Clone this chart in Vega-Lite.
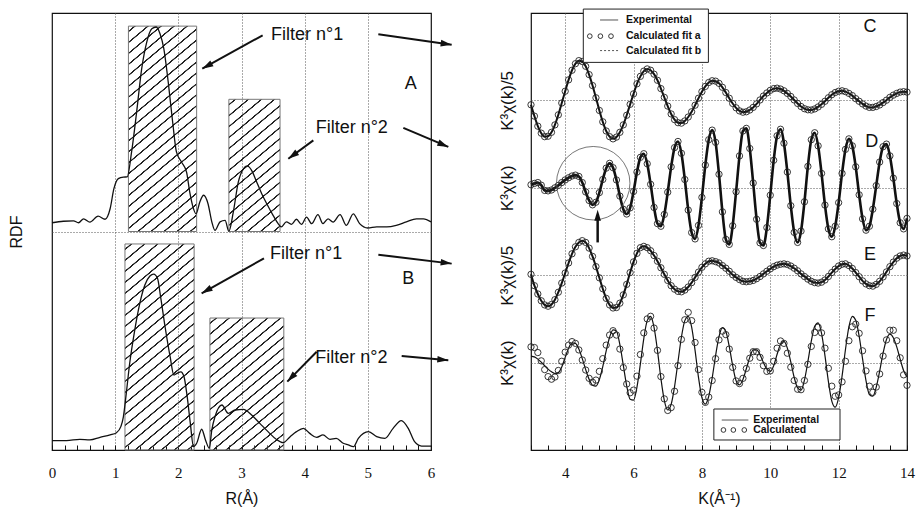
{
"$schema": "https://vega.github.io/schema/vega-lite/v6.json",
"background": "white",
"padding": {"left": 7, "top": 7, "right": 2, "bottom": 2},
"bounds": "flush",
"spacing": 100,
"config": {
  "view": {"stroke": "#111", "strokeWidth": 1.2},
  "axis": {"domain": false, "gridColor": "#555", "gridDash": [1, 2], "gridWidth": 1, "labelFont": "Liberation Serif", "labelFontSize": 15, "labelColor": "#111", "tickColor": "#111", "titleFont": "Liberation Sans", "titleFontSize": 16, "titleFontWeight": "normal", "titleColor": "#111"},
  "text": {"font": "Liberation Sans", "color": "#111"}
},
"datasets": {
  "rdf": [
    {"R":0.0,"v":1.04,"s":"A"},{"R":0.18,"v":1.047,"s":"A"},{"R":0.34,"v":1.049,"s":"A"},{"R":0.42,"v":1.04,"s":"A"},{"R":0.5,"v":1.058,"s":"A"},{"R":0.6,"v":1.043,"s":"A"},{"R":0.73,"v":1.07,"s":"A"},{"R":0.84,"v":1.056,"s":"A"},{"R":0.92,"v":1.104,"s":"A"},{"R":0.98,"v":1.196,"s":"A"},{"R":1.05,"v":1.242,"s":"A"},{"R":1.13,"v":1.249,"s":"A"},{"R":1.19,"v":1.25,"s":"A"},{"R":1.26,"v":1.364,"s":"A"},{"R":1.34,"v":1.547,"s":"A"},{"R":1.42,"v":1.745,"s":"A"},{"R":1.5,"v":1.867,"s":"A"},{"R":1.58,"v":1.928,"s":"A"},{"R":1.65,"v":1.936,"s":"A"},{"R":1.71,"v":1.905,"s":"A"},{"R":1.77,"v":1.837,"s":"A"},{"R":1.84,"v":1.684,"s":"A"},{"R":1.91,"v":1.501,"s":"A"},{"R":1.97,"v":1.364,"s":"A"},{"R":2.05,"v":1.318,"s":"A"},{"R":2.13,"v":1.272,"s":"A"},{"R":2.18,"v":1.181,"s":"A"},{"R":2.24,"v":1.104,"s":"A"},{"R":2.28,"v":1.081,"s":"A"},{"R":2.34,"v":1.135,"s":"A"},{"R":2.4,"v":1.166,"s":"A"},{"R":2.47,"v":1.127,"s":"A"},{"R":2.53,"v":1.044,"s":"A"},{"R":2.58,"v":1.005,"s":"A"},{"R":2.66,"v":1.044,"s":"A"},{"R":2.74,"v":1.051,"s":"A"},{"R":2.8,"v":1.001,"s":"A"},{"R":2.87,"v":1.089,"s":"A"},{"R":2.95,"v":1.227,"s":"A"},{"R":3.03,"v":1.287,"s":"A"},{"R":3.09,"v":1.3,"s":"A"},{"R":3.16,"v":1.28,"s":"A"},{"R":3.24,"v":1.227,"s":"A"},{"R":3.32,"v":1.173,"s":"A"},{"R":3.4,"v":1.127,"s":"A"},{"R":3.5,"v":1.074,"s":"A"},{"R":3.58,"v":1.036,"s":"A"},{"R":3.63,"v":1.021,"s":"A"},{"R":3.71,"v":1.044,"s":"A"},{"R":3.79,"v":1.033,"s":"A"},{"R":3.87,"v":1.056,"s":"A"},{"R":3.95,"v":1.033,"s":"A"},{"R":4.03,"v":1.066,"s":"A"},{"R":4.11,"v":1.036,"s":"A"},{"R":4.21,"v":1.077,"s":"A"},{"R":4.29,"v":1.036,"s":"A"},{"R":4.37,"v":1.058,"s":"A"},{"R":4.45,"v":1.043,"s":"A"},{"R":4.56,"v":1.077,"s":"A"},{"R":4.66,"v":1.028,"s":"A"},{"R":4.77,"v":1.081,"s":"A"},{"R":4.87,"v":1.036,"s":"A"},{"R":5.0,"v":1.016,"s":"A"},{"R":5.14,"v":1.021,"s":"A"},{"R":5.3,"v":1.021,"s":"A"},{"R":5.45,"v":1.028,"s":"A"},{"R":5.61,"v":1.044,"s":"A"},{"R":5.77,"v":1.058,"s":"A"},{"R":5.88,"v":1.058,"s":"A"},{"R":6.0,"v":1.044,"s":"A"},
    {"R":0.0,"v":0.043,"s":"B"},{"R":0.23,"v":0.043,"s":"B"},{"R":0.44,"v":0.049,"s":"B"},{"R":0.6,"v":0.046,"s":"B"},{"R":0.76,"v":0.058,"s":"B"},{"R":0.92,"v":0.069,"s":"B"},{"R":1.02,"v":0.079,"s":"B"},{"R":1.09,"v":0.107,"s":"B"},{"R":1.13,"v":0.152,"s":"B"},{"R":1.17,"v":0.244,"s":"B"},{"R":1.23,"v":0.397,"s":"B"},{"R":1.31,"v":0.549,"s":"B"},{"R":1.39,"v":0.671,"s":"B"},{"R":1.47,"v":0.755,"s":"B"},{"R":1.55,"v":0.796,"s":"B"},{"R":1.61,"v":0.805,"s":"B"},{"R":1.67,"v":0.786,"s":"B"},{"R":1.72,"v":0.7,"s":"B"},{"R":1.79,"v":0.564,"s":"B"},{"R":1.87,"v":0.427,"s":"B"},{"R":1.93,"v":0.343,"s":"B"},{"R":1.98,"v":0.351,"s":"B"},{"R":2.04,"v":0.358,"s":"B"},{"R":2.09,"v":0.335,"s":"B"},{"R":2.14,"v":0.244,"s":"B"},{"R":2.19,"v":0.122,"s":"B"},{"R":2.24,"v":0.015,"s":"B"},{"R":2.29,"v":0.031,"s":"B"},{"R":2.37,"v":0.095,"s":"B"},{"R":2.43,"v":0.046,"s":"B"},{"R":2.49,"v":0.008,"s":"B"},{"R":2.53,"v":0.092,"s":"B"},{"R":2.58,"v":0.152,"s":"B"},{"R":2.69,"v":0.206,"s":"B"},{"R":2.79,"v":0.168,"s":"B"},{"R":2.9,"v":0.183,"s":"B"},{"R":3.03,"v":0.186,"s":"B"},{"R":3.16,"v":0.16,"s":"B"},{"R":3.29,"v":0.122,"s":"B"},{"R":3.42,"v":0.084,"s":"B"},{"R":3.55,"v":0.049,"s":"B"},{"R":3.66,"v":0.034,"s":"B"},{"R":3.77,"v":0.061,"s":"B"},{"R":3.87,"v":0.084,"s":"B"},{"R":3.98,"v":0.099,"s":"B"},{"R":4.08,"v":0.076,"s":"B"},{"R":4.19,"v":0.058,"s":"B"},{"R":4.29,"v":0.069,"s":"B"},{"R":4.4,"v":0.049,"s":"B"},{"R":4.5,"v":0.053,"s":"B"},{"R":4.61,"v":0.031,"s":"B"},{"R":4.69,"v":0.023,"s":"B"},{"R":4.77,"v":0.015,"s":"B"},{"R":4.85,"v":0.053,"s":"B"},{"R":5.01,"v":0.084,"s":"B"},{"R":5.14,"v":0.061,"s":"B"},{"R":5.27,"v":0.053,"s":"B"},{"R":5.4,"v":0.099,"s":"B"},{"R":5.53,"v":0.134,"s":"B"},{"R":5.64,"v":0.099,"s":"B"},{"R":5.74,"v":0.038,"s":"B"},{"R":5.85,"v":0.018,"s":"B"},{"R":6.0,"v":0.018,"s":"B"}
  ],
  "arrows": [
    {"R":3.335,"v":1.898,"R2":2.379,"v2":1.745},
    {"R":5.166,"v":1.903,"R2":6.327,"v2":1.855},
    {"R":4.137,"v":1.417,"R2":3.741,"v2":1.333},
    {"R":5.562,"v":1.474,"R2":6.274,"v2":1.387},
    {"R":3.356,"v":0.877,"R2":2.369,"v2":0.717},
    {"R":5.166,"v":0.894,"R2":6.327,"v2":0.853},
    {"R":4.19,"v":0.45,"R2":3.725,"v2":0.313},
    {"R":5.536,"v":0.43,"R2":6.274,"v2":0.411}
  ],
  "exafs": [
    {"k":3.0,"C":79.0,"D":60.7,"E":40.2,"F":21.5,"Fc":23.6},
    {"k":3.1,"C":76.4,"D":61.0,"E":37.6,"F":21.3,"Fc":23.45},
    {"k":3.2,"C":74.1,"D":61.2,"E":35.7,"F":20.8,"Fc":22.3},
    {"k":3.3,"C":72.5,"D":60.6,"E":34.15,"F":20.1,"Fc":20.4},
    {"k":3.4,"C":71.7,"D":59.4,"E":33.2,"F":19.3,"Fc":18.4},
    {"k":3.5,"C":71.8,"D":59.3,"E":32.9,"F":18.5,"Fc":16.8},
    {"k":3.6,"C":72.7,"D":59.5,"E":33.3,"F":17.9,"Fc":16.2},
    {"k":3.7,"C":74.4,"D":60.0,"E":34.4,"F":17.5,"Fc":16.7},
    {"k":3.8,"C":76.7,"D":60.55,"E":36.1,"F":17.7,"Fc":18.2},
    {"k":3.9,"C":79.4,"D":61.2,"E":38.2,"F":19.0,"Fc":20.3},
    {"k":4.0,"C":82.1,"D":61.8,"E":40.5,"F":21.2,"Fc":22.4},
    {"k":4.1,"C":84.7,"D":62.3,"E":42.8,"F":23.3,"Fc":24.0},
    {"k":4.2,"C":86.9,"D":62.7,"E":44.9,"F":24.5,"Fc":24.8},
    {"k":4.3,"C":88.4,"D":62.9,"E":46.5,"F":24.4,"Fc":24.4},
    {"k":4.4,"C":89.1,"D":62.6,"E":47.5,"F":23.1,"Fc":22.9},
    {"k":4.5,"C":88.9,"D":61.2,"E":47.9,"F":20.9,"Fc":20.6},
    {"k":4.6,"C":87.8,"D":59.05,"E":47.5,"F":18.4,"Fc":18.3},
    {"k":4.7,"C":85.9,"D":57.1,"E":46.2,"F":16.2,"Fc":16.4},
    {"k":4.8,"C":83.4,"D":56.1,"E":44.3,"F":14.8,"Fc":15.5},
    {"k":4.9,"C":80.6,"D":56.7,"E":41.96,"F":14.6,"Fc":16.0},
    {"k":5.0,"C":77.7,"D":58.9,"E":39.4,"F":16.1,"Fc":18.0},
    {"k":5.1,"C":75.1,"D":61.9,"E":36.9,"F":19.1,"Fc":20.9},
    {"k":5.2,"C":73.0,"D":64.5,"E":34.7,"F":22.7,"Fc":24.0},
    {"k":5.3,"C":71.7,"D":65.6,"E":33.2,"F":25.8,"Fc":26.3},
    {"k":5.4,"C":71.2,"D":64.6,"E":32.5,"F":27.5,"Fc":27.3},
    {"k":5.5,"C":71.6,"D":61.8,"E":32.6,"F":27.2,"Fc":26.3},
    {"k":5.6,"C":72.7,"D":58.1,"E":33.6,"F":24.1,"Fc":23.1},
    {"k":5.7,"C":74.4,"D":55.1,"E":35.5,"F":19.4,"Fc":18.85},
    {"k":5.8,"C":76.6,"D":54.0,"E":37.9,"F":14.7,"Fc":15.1},
    {"k":5.9,"C":79.1,"D":55.4,"E":40.6,"F":11.6,"Fc":13.1},
    {"k":6.0,"C":81.5,"D":59.15,"E":43.05,"F":11.4,"Fc":13.7},
    {"k":6.1,"C":83.8,"D":63.6,"E":45.0,"F":14.4,"Fc":16.9},
    {"k":6.2,"C":85.5,"D":66.97,"E":46.3,"F":19.7,"Fc":21.85},
    {"k":6.3,"C":86.7,"D":67.8,"E":46.6,"F":25.5,"Fc":26.8},
    {"k":6.4,"C":87.2,"D":65.5,"E":46.3,"F":29.6,"Fc":30.0},
    {"k":6.5,"C":86.9,"D":60.8,"E":45.6,"F":30.6,"Fc":30.6},
    {"k":6.6,"C":86.0,"D":55.5,"E":44.5,"F":28.05,"Fc":27.9},
    {"k":6.7,"C":84.6,"D":51.8,"E":43.2,"F":22.75,"Fc":22.8},
    {"k":6.8,"C":82.7,"D":51.2,"E":41.7,"F":16.4,"Fc":16.8},
    {"k":6.9,"C":80.7,"D":53.9,"E":40.2,"F":11.35,"Fc":11.7},
    {"k":7.0,"C":78.7,"D":59.0,"E":38.8,"F":9.15,"Fc":9.05},
    {"k":7.1,"C":76.9,"D":64.8,"E":37.6,"F":10.45,"Fc":9.7},
    {"k":7.2,"C":75.6,"D":69.2,"E":36.8,"F":14.5,"Fc":13.45},
    {"k":7.3,"C":74.9,"D":70.6,"E":36.3,"F":20.2,"Fc":19.3},
    {"k":7.4,"C":74.8,"D":67.9,"E":36.2,"F":25.8,"Fc":25.3},
    {"k":7.5,"C":75.3,"D":61.9,"E":36.6,"F":29.6,"Fc":29.8},
    {"k":7.6,"C":76.2,"D":54.9,"E":37.3,"F":30.6,"Fc":31.5},
    {"k":7.7,"C":77.4,"D":49.75,"E":38.3,"F":28.1,"Fc":29.6},
    {"k":7.8,"C":78.9,"D":48.3,"E":39.5,"F":22.8,"Fc":24.6},
    {"k":7.9,"C":80.5,"D":51.4,"E":40.7,"F":16.6,"Fc":18.4},
    {"k":8.0,"C":82.0,"D":57.8,"E":41.8,"F":12.0,"Fc":13.2},
    {"k":8.1,"C":83.2,"D":65.2,"E":42.6,"F":10.5,"Fc":10.9},
    {"k":8.2,"C":84.1,"D":71.0,"E":43.2,"F":12.3,"Fc":12.1},
    {"k":8.3,"C":84.5,"D":73.2,"E":43.3,"F":16.45,"Fc":15.9},
    {"k":8.4,"C":84.4,"D":70.4,"E":43.1,"F":21.6,"Fc":20.9},
    {"k":8.5,"C":83.9,"D":63.1,"E":42.8,"F":25.95,"Fc":25.2},
    {"k":8.6,"C":83.0,"D":54.5,"E":42.2,"F":28.0,"Fc":27.2},
    {"k":8.7,"C":81.8,"D":48.2,"E":41.6,"F":27.1,"Fc":26.4},
    {"k":8.8,"C":80.5,"D":47.05,"E":40.9,"F":23.7,"Fc":23.1},
    {"k":8.9,"C":79.3,"D":51.3,"E":40.1,"F":19.3,"Fc":18.9},
    {"k":9.0,"C":78.3,"D":59.1,"E":39.5,"F":15.85,"Fc":15.8},
    {"k":9.1,"C":77.6,"D":67.3,"E":39.0,"F":14.9,"Fc":15.2},
    {"k":9.2,"C":77.3,"D":73.0,"E":38.6,"F":16.15,"Fc":16.4},
    {"k":9.3,"C":77.4,"D":73.6,"E":38.5,"F":18.6,"Fc":18.65},
    {"k":9.4,"C":77.8,"D":69.0,"E":38.6,"F":21.2,"Fc":21.0},
    {"k":9.5,"C":78.4,"D":61.1,"E":38.8,"F":22.9,"Fc":22.5},
    {"k":9.6,"C":79.2,"D":52.8,"E":39.2,"F":22.9,"Fc":22.5},
    {"k":9.7,"C":80.1,"D":47.4,"E":39.7,"F":21.8,"Fc":21.2},
    {"k":9.8,"C":81.0,"D":46.8,"E":40.3,"F":20.0,"Fc":19.3},
    {"k":9.9,"C":81.7,"D":50.9,"E":40.9,"F":18.5,"Fc":18.0},
    {"k":10.0,"C":82.3,"D":58.3,"E":41.45,"F":18.0,"Fc":18.1},
    {"k":10.1,"C":82.7,"D":66.3,"E":41.95,"F":19.3,"Fc":20.3},
    {"k":10.2,"C":82.8,"D":71.9,"E":42.3,"F":21.9,"Fc":23.3},
    {"k":10.3,"C":82.6,"D":73.4,"E":42.5,"F":24.2,"Fc":24.95},
    {"k":10.4,"C":82.2,"D":70.2,"E":42.6,"F":24.85,"Fc":24.4},
    {"k":10.5,"C":81.6,"D":63.6,"E":42.45,"F":23.3,"Fc":22.15},
    {"k":10.6,"C":80.9,"D":55.9,"E":42.1,"F":20.15,"Fc":18.95},
    {"k":10.7,"C":80.1,"D":49.8,"E":41.6,"F":16.6,"Fc":15.9},
    {"k":10.8,"C":79.3,"D":47.5,"E":41.0,"F":14.2,"Fc":13.9},
    {"k":10.9,"C":78.6,"D":50.1,"E":40.3,"F":13.7,"Fc":13.8},
    {"k":11.0,"C":78.1,"D":56.8,"E":39.7,"F":16.0,"Fc":15.9},
    {"k":11.1,"C":77.85,"D":64.9,"E":39.1,"F":20.2,"Fc":19.6},
    {"k":11.2,"C":77.8,"D":71.0,"E":38.6,"F":24.9,"Fc":23.7},
    {"k":11.3,"C":78.05,"D":72.6,"E":38.3,"F":28.3,"Fc":26.9},
    {"k":11.4,"C":78.5,"D":69.6,"E":38.2,"F":29.1,"Fc":28.1},
    {"k":11.5,"C":79.1,"D":63.3,"E":38.4,"F":26.7,"Fc":26.8},
    {"k":11.6,"C":79.8,"D":56.05,"E":38.9,"F":21.6,"Fc":23.3},
    {"k":11.7,"C":80.6,"D":50.6,"E":39.7,"F":15.7,"Fc":18.7},
    {"k":11.8,"C":81.3,"D":48.8,"E":40.6,"F":11.2,"Fc":14.6},
    {"k":11.9,"C":81.8,"D":51.2,"E":41.4,"F":9.8,"Fc":12.3},
    {"k":12.0,"C":82.1,"D":56.6,"E":42.1,"F":12.0,"Fc":12.6},
    {"k":12.1,"C":82.2,"D":63.3,"E":42.5,"F":16.9,"Fc":15.6},
    {"k":12.2,"C":82.0,"D":68.8,"E":42.6,"F":23.0,"Fc":20.3},
    {"k":12.3,"C":81.6,"D":71.2,"E":42.2,"F":28.15,"Fc":25.0},
    {"k":12.4,"C":81.1,"D":69.6,"E":41.55,"F":30.6,"Fc":28.2},
    {"k":12.5,"C":80.4,"D":64.8,"E":40.6,"F":29.7,"Fc":28.8},
    {"k":12.6,"C":79.8,"D":58.4,"E":39.65,"F":26.05,"Fc":26.7},
    {"k":12.7,"C":79.2,"D":52.9,"E":38.7,"F":20.85,"Fc":22.7},
    {"k":12.8,"C":78.7,"D":50.3,"E":38.0,"F":15.9,"Fc":18.1},
    {"k":12.9,"C":78.4,"D":51.2,"E":37.6,"F":12.7,"Fc":14.6},
    {"k":13.0,"C":78.4,"D":55.1,"E":37.5,"F":12.3,"Fc":13.2},
    {"k":13.1,"C":78.6,"D":60.5,"E":37.9,"F":14.4,"Fc":14.4},
    {"k":13.2,"C":78.96,"D":65.9,"E":38.6,"F":18.05,"Fc":17.4},
    {"k":13.3,"C":79.5,"D":69.4,"E":39.6,"F":22.15,"Fc":21.5},
    {"k":13.4,"C":80.05,"D":70.0,"E":40.75,"F":25.3,"Fc":25.2},
    {"k":13.5,"C":80.7,"D":67.3,"E":41.95,"F":26.5,"Fc":27.4},
    {"k":13.6,"C":81.2,"D":62.2,"E":43.0,"F":25.7,"Fc":27.4},
    {"k":13.7,"C":81.6,"D":56.4,"E":43.9,"F":23.6,"Fc":25.0},
    {"k":13.8,"C":81.9,"D":52.0,"E":44.4,"F":20.8,"Fc":21.1},
    {"k":13.9,"C":82.0,"D":50.6,"E":44.6,"F":18.2,"Fc":17.2},
    {"k":14.0,"C":81.9,"D":53.0,"E":44.4,"F":16.7,"Fc":14.8}
  ]
},
"hconcat": [
  {
    "width": 379,
    "height": 437,
    "encoding": {
      "x": {"field": "R", "type": "quantitative", "scale": {"domain": [0, 6], "nice": false, "zero": false},
        "axis": {"title": "R(Å)", "format": "~g", "values": [0,0.2,0.4,0.6,0.8,1,1.2,1.4,1.6,1.8,2,2.2,2.4,2.6,2.8,3,3.2,3.4,3.6,3.8,4,4.2,4.4,4.6,4.8,5,5.2,5.4,5.6,5.8,6],
          "labelExpr": "datum.value % 1 == 0 ? datum.label : ''", "labelFlush": false, "labelOverlap": false, "tickSize": -5, "labelPadding": 20, "titlePadding": 10,
          "grid": true, "gridOpacity": {"condition": {"test": "datum.value % 1 == 0 && datum.value > 0 && datum.value < 6", "value": 1}, "value": 0}}},
      "y": {"field": "v", "type": "quantitative", "scale": {"domain": [0, 2], "nice": false, "zero": false},
        "axis": {"title": "RDF", "values": [1], "labels": false, "ticks": false, "grid": true, "titlePadding": 28}}
    },
    "layer": [
      {
        "data": {"values": [{"R": 1.21, "R2": 2.29, "v": 1.0, "v2": 1.94}]},
        "mark": {"type": "rect", "stroke": "#777", "strokeWidth": 1,
          "fill": {"gradient": "linear", "x1": 0, "y1": 0, "x2": 0.3306, "y2": 1.1866, "stops": [
            {"offset":0.0158,"color":"rgba(255,255,255,0)"},{"offset":0.0183,"color":"#222"},{"offset":0.0233,"color":"#222"},{"offset":0.0258,"color":"rgba(255,255,255,0)"},
            {"offset":0.0575,"color":"rgba(255,255,255,0)"},{"offset":0.06,"color":"#222"},{"offset":0.065,"color":"#222"},{"offset":0.0675,"color":"rgba(255,255,255,0)"},
            {"offset":0.0992,"color":"rgba(255,255,255,0)"},{"offset":0.1017,"color":"#222"},{"offset":0.1067,"color":"#222"},{"offset":0.1092,"color":"rgba(255,255,255,0)"},
            {"offset":0.1408,"color":"rgba(255,255,255,0)"},{"offset":0.1433,"color":"#222"},{"offset":0.1483,"color":"#222"},{"offset":0.1508,"color":"rgba(255,255,255,0)"},
            {"offset":0.1825,"color":"rgba(255,255,255,0)"},{"offset":0.185,"color":"#222"},{"offset":0.19,"color":"#222"},{"offset":0.1925,"color":"rgba(255,255,255,0)"},
            {"offset":0.2242,"color":"rgba(255,255,255,0)"},{"offset":0.2267,"color":"#222"},{"offset":0.2317,"color":"#222"},{"offset":0.2342,"color":"rgba(255,255,255,0)"},
            {"offset":0.2658,"color":"rgba(255,255,255,0)"},{"offset":0.2683,"color":"#222"},{"offset":0.2733,"color":"#222"},{"offset":0.2758,"color":"rgba(255,255,255,0)"},
            {"offset":0.3075,"color":"rgba(255,255,255,0)"},{"offset":0.31,"color":"#222"},{"offset":0.315,"color":"#222"},{"offset":0.3175,"color":"rgba(255,255,255,0)"},
            {"offset":0.3492,"color":"rgba(255,255,255,0)"},{"offset":0.3517,"color":"#222"},{"offset":0.3567,"color":"#222"},{"offset":0.3592,"color":"rgba(255,255,255,0)"},
            {"offset":0.3908,"color":"rgba(255,255,255,0)"},{"offset":0.3933,"color":"#222"},{"offset":0.3983,"color":"#222"},{"offset":0.4008,"color":"rgba(255,255,255,0)"},
            {"offset":0.4325,"color":"rgba(255,255,255,0)"},{"offset":0.435,"color":"#222"},{"offset":0.44,"color":"#222"},{"offset":0.4425,"color":"rgba(255,255,255,0)"},
            {"offset":0.4742,"color":"rgba(255,255,255,0)"},{"offset":0.4767,"color":"#222"},{"offset":0.4817,"color":"#222"},{"offset":0.4842,"color":"rgba(255,255,255,0)"},
            {"offset":0.5158,"color":"rgba(255,255,255,0)"},{"offset":0.5183,"color":"#222"},{"offset":0.5233,"color":"#222"},{"offset":0.5258,"color":"rgba(255,255,255,0)"},
            {"offset":0.5575,"color":"rgba(255,255,255,0)"},{"offset":0.56,"color":"#222"},{"offset":0.565,"color":"#222"},{"offset":0.5675,"color":"rgba(255,255,255,0)"},
            {"offset":0.5992,"color":"rgba(255,255,255,0)"},{"offset":0.6017,"color":"#222"},{"offset":0.6067,"color":"#222"},{"offset":0.6092,"color":"rgba(255,255,255,0)"},
            {"offset":0.6408,"color":"rgba(255,255,255,0)"},{"offset":0.6433,"color":"#222"},{"offset":0.6483,"color":"#222"},{"offset":0.6508,"color":"rgba(255,255,255,0)"},
            {"offset":0.6825,"color":"rgba(255,255,255,0)"},{"offset":0.685,"color":"#222"},{"offset":0.69,"color":"#222"},{"offset":0.6925,"color":"rgba(255,255,255,0)"},
            {"offset":0.7242,"color":"rgba(255,255,255,0)"},{"offset":0.7267,"color":"#222"},{"offset":0.7317,"color":"#222"},{"offset":0.7342,"color":"rgba(255,255,255,0)"},
            {"offset":0.7658,"color":"rgba(255,255,255,0)"},{"offset":0.7683,"color":"#222"},{"offset":0.7733,"color":"#222"},{"offset":0.7758,"color":"rgba(255,255,255,0)"},
            {"offset":0.8075,"color":"rgba(255,255,255,0)"},{"offset":0.81,"color":"#222"},{"offset":0.815,"color":"#222"},{"offset":0.8175,"color":"rgba(255,255,255,0)"},
            {"offset":0.8492,"color":"rgba(255,255,255,0)"},{"offset":0.8517,"color":"#222"},{"offset":0.8567,"color":"#222"},{"offset":0.8592,"color":"rgba(255,255,255,0)"},
            {"offset":0.8908,"color":"rgba(255,255,255,0)"},{"offset":0.8933,"color":"#222"},{"offset":0.8983,"color":"#222"},{"offset":0.9008,"color":"rgba(255,255,255,0)"},
            {"offset":0.9325,"color":"rgba(255,255,255,0)"},{"offset":0.935,"color":"#222"},{"offset":0.94,"color":"#222"},{"offset":0.9425,"color":"rgba(255,255,255,0)"},
            {"offset":0.9742,"color":"rgba(255,255,255,0)"},{"offset":0.9767,"color":"#222"},{"offset":0.9817,"color":"#222"},{"offset":0.9842,"color":"rgba(255,255,255,0)"}
          ]}},
        "encoding": {"x2": {"field": "R2"}, "y2": {"field": "v2"}}
      },
      {
        "data": {"values": [{"R": 1.155, "R2": 2.25, "v": 0, "v2": 0.943}]},
        "mark": {"type": "rect", "stroke": "#777", "strokeWidth": 1,
          "fill": {"gradient": "linear", "x1": 0, "y1": 0, "x2": 0.3348, "y2": 1.1876, "stops": [
            {"offset":0.0158,"color":"rgba(255,255,255,0)"},{"offset":0.0183,"color":"#222"},{"offset":0.0233,"color":"#222"},{"offset":0.0258,"color":"rgba(255,255,255,0)"},
            {"offset":0.0575,"color":"rgba(255,255,255,0)"},{"offset":0.06,"color":"#222"},{"offset":0.065,"color":"#222"},{"offset":0.0675,"color":"rgba(255,255,255,0)"},
            {"offset":0.0992,"color":"rgba(255,255,255,0)"},{"offset":0.1017,"color":"#222"},{"offset":0.1067,"color":"#222"},{"offset":0.1092,"color":"rgba(255,255,255,0)"},
            {"offset":0.1408,"color":"rgba(255,255,255,0)"},{"offset":0.1433,"color":"#222"},{"offset":0.1483,"color":"#222"},{"offset":0.1508,"color":"rgba(255,255,255,0)"},
            {"offset":0.1825,"color":"rgba(255,255,255,0)"},{"offset":0.185,"color":"#222"},{"offset":0.19,"color":"#222"},{"offset":0.1925,"color":"rgba(255,255,255,0)"},
            {"offset":0.2242,"color":"rgba(255,255,255,0)"},{"offset":0.2267,"color":"#222"},{"offset":0.2317,"color":"#222"},{"offset":0.2342,"color":"rgba(255,255,255,0)"},
            {"offset":0.2658,"color":"rgba(255,255,255,0)"},{"offset":0.2683,"color":"#222"},{"offset":0.2733,"color":"#222"},{"offset":0.2758,"color":"rgba(255,255,255,0)"},
            {"offset":0.3075,"color":"rgba(255,255,255,0)"},{"offset":0.31,"color":"#222"},{"offset":0.315,"color":"#222"},{"offset":0.3175,"color":"rgba(255,255,255,0)"},
            {"offset":0.3492,"color":"rgba(255,255,255,0)"},{"offset":0.3517,"color":"#222"},{"offset":0.3567,"color":"#222"},{"offset":0.3592,"color":"rgba(255,255,255,0)"},
            {"offset":0.3908,"color":"rgba(255,255,255,0)"},{"offset":0.3933,"color":"#222"},{"offset":0.3983,"color":"#222"},{"offset":0.4008,"color":"rgba(255,255,255,0)"},
            {"offset":0.4325,"color":"rgba(255,255,255,0)"},{"offset":0.435,"color":"#222"},{"offset":0.44,"color":"#222"},{"offset":0.4425,"color":"rgba(255,255,255,0)"},
            {"offset":0.4742,"color":"rgba(255,255,255,0)"},{"offset":0.4767,"color":"#222"},{"offset":0.4817,"color":"#222"},{"offset":0.4842,"color":"rgba(255,255,255,0)"},
            {"offset":0.5158,"color":"rgba(255,255,255,0)"},{"offset":0.5183,"color":"#222"},{"offset":0.5233,"color":"#222"},{"offset":0.5258,"color":"rgba(255,255,255,0)"},
            {"offset":0.5575,"color":"rgba(255,255,255,0)"},{"offset":0.56,"color":"#222"},{"offset":0.565,"color":"#222"},{"offset":0.5675,"color":"rgba(255,255,255,0)"},
            {"offset":0.5992,"color":"rgba(255,255,255,0)"},{"offset":0.6017,"color":"#222"},{"offset":0.6067,"color":"#222"},{"offset":0.6092,"color":"rgba(255,255,255,0)"},
            {"offset":0.6408,"color":"rgba(255,255,255,0)"},{"offset":0.6433,"color":"#222"},{"offset":0.6483,"color":"#222"},{"offset":0.6508,"color":"rgba(255,255,255,0)"},
            {"offset":0.6825,"color":"rgba(255,255,255,0)"},{"offset":0.685,"color":"#222"},{"offset":0.69,"color":"#222"},{"offset":0.6925,"color":"rgba(255,255,255,0)"},
            {"offset":0.7242,"color":"rgba(255,255,255,0)"},{"offset":0.7267,"color":"#222"},{"offset":0.7317,"color":"#222"},{"offset":0.7342,"color":"rgba(255,255,255,0)"},
            {"offset":0.7658,"color":"rgba(255,255,255,0)"},{"offset":0.7683,"color":"#222"},{"offset":0.7733,"color":"#222"},{"offset":0.7758,"color":"rgba(255,255,255,0)"},
            {"offset":0.8075,"color":"rgba(255,255,255,0)"},{"offset":0.81,"color":"#222"},{"offset":0.815,"color":"#222"},{"offset":0.8175,"color":"rgba(255,255,255,0)"},
            {"offset":0.8492,"color":"rgba(255,255,255,0)"},{"offset":0.8517,"color":"#222"},{"offset":0.8567,"color":"#222"},{"offset":0.8592,"color":"rgba(255,255,255,0)"},
            {"offset":0.8908,"color":"rgba(255,255,255,0)"},{"offset":0.8933,"color":"#222"},{"offset":0.8983,"color":"#222"},{"offset":0.9008,"color":"rgba(255,255,255,0)"},
            {"offset":0.9325,"color":"rgba(255,255,255,0)"},{"offset":0.935,"color":"#222"},{"offset":0.94,"color":"#222"},{"offset":0.9425,"color":"rgba(255,255,255,0)"},
            {"offset":0.9742,"color":"rgba(255,255,255,0)"},{"offset":0.9767,"color":"#222"},{"offset":0.9817,"color":"#222"},{"offset":0.9842,"color":"rgba(255,255,255,0)"}
          ]}},
        "encoding": {"x2": {"field": "R2"}, "y2": {"field": "v2"}}
      },
      {
        "data": {"values": [{"R": 2.8, "R2": 3.61, "v": 1.0, "v2": 1.605}]},
        "mark": {"type": "rect", "stroke": "#777", "strokeWidth": 1,
          "fill": {"gradient": "linear", "x1": 0, "y1": 0, "x2": 0.3895, "y2": 1.1986, "stops": [
            {"offset":0.0238,"color":"rgba(255,255,255,0)"},{"offset":0.0276,"color":"#222"},{"offset":0.035,"color":"#222"},{"offset":0.0388,"color":"rgba(255,255,255,0)"},
            {"offset":0.0863,"color":"rgba(255,255,255,0)"},{"offset":0.0901,"color":"#222"},{"offset":0.0975,"color":"#222"},{"offset":0.1013,"color":"rgba(255,255,255,0)"},
            {"offset":0.1488,"color":"rgba(255,255,255,0)"},{"offset":0.1526,"color":"#222"},{"offset":0.16,"color":"#222"},{"offset":0.1638,"color":"rgba(255,255,255,0)"},
            {"offset":0.2113,"color":"rgba(255,255,255,0)"},{"offset":0.2151,"color":"#222"},{"offset":0.2225,"color":"#222"},{"offset":0.2263,"color":"rgba(255,255,255,0)"},
            {"offset":0.2738,"color":"rgba(255,255,255,0)"},{"offset":0.2776,"color":"#222"},{"offset":0.285,"color":"#222"},{"offset":0.2888,"color":"rgba(255,255,255,0)"},
            {"offset":0.3363,"color":"rgba(255,255,255,0)"},{"offset":0.3401,"color":"#222"},{"offset":0.3475,"color":"#222"},{"offset":0.3513,"color":"rgba(255,255,255,0)"},
            {"offset":0.3988,"color":"rgba(255,255,255,0)"},{"offset":0.4026,"color":"#222"},{"offset":0.41,"color":"#222"},{"offset":0.4138,"color":"rgba(255,255,255,0)"},
            {"offset":0.4613,"color":"rgba(255,255,255,0)"},{"offset":0.4651,"color":"#222"},{"offset":0.4725,"color":"#222"},{"offset":0.4763,"color":"rgba(255,255,255,0)"},
            {"offset":0.5238,"color":"rgba(255,255,255,0)"},{"offset":0.5276,"color":"#222"},{"offset":0.535,"color":"#222"},{"offset":0.5388,"color":"rgba(255,255,255,0)"},
            {"offset":0.5863,"color":"rgba(255,255,255,0)"},{"offset":0.5901,"color":"#222"},{"offset":0.5975,"color":"#222"},{"offset":0.6013,"color":"rgba(255,255,255,0)"},
            {"offset":0.6488,"color":"rgba(255,255,255,0)"},{"offset":0.6526,"color":"#222"},{"offset":0.66,"color":"#222"},{"offset":0.6638,"color":"rgba(255,255,255,0)"},
            {"offset":0.7113,"color":"rgba(255,255,255,0)"},{"offset":0.7151,"color":"#222"},{"offset":0.7225,"color":"#222"},{"offset":0.7263,"color":"rgba(255,255,255,0)"},
            {"offset":0.7738,"color":"rgba(255,255,255,0)"},{"offset":0.7776,"color":"#222"},{"offset":0.785,"color":"#222"},{"offset":0.7888,"color":"rgba(255,255,255,0)"},
            {"offset":0.8363,"color":"rgba(255,255,255,0)"},{"offset":0.8401,"color":"#222"},{"offset":0.8475,"color":"#222"},{"offset":0.8513,"color":"rgba(255,255,255,0)"},
            {"offset":0.8988,"color":"rgba(255,255,255,0)"},{"offset":0.9026,"color":"#222"},{"offset":0.91,"color":"#222"},{"offset":0.9138,"color":"rgba(255,255,255,0)"},
            {"offset":0.9613,"color":"rgba(255,255,255,0)"},{"offset":0.9651,"color":"#222"},{"offset":0.9725,"color":"#222"},{"offset":0.9763,"color":"rgba(255,255,255,0)"}
          ]}},
        "encoding": {"x2": {"field": "R2"}, "y2": {"field": "v2"}}
      },
      {
        "data": {"values": [{"R": 2.5, "R2": 3.67, "v": 0, "v2": 0.604}]},
        "mark": {"type": "rect", "stroke": "#777", "strokeWidth": 1,
          "fill": {"gradient": "linear", "x1": 0, "y1": 0, "x2": 0.5656, "y2": 1.2039, "stops": [
            {"offset":0.0211,"color":"rgba(255,255,255,0)"},{"offset":0.0244,"color":"#222"},{"offset":0.0312,"color":"#222"},{"offset":0.0345,"color":"rgba(255,255,255,0)"},
            {"offset":0.0766,"color":"rgba(255,255,255,0)"},{"offset":0.0799,"color":"#222"},{"offset":0.0867,"color":"#222"},{"offset":0.09,"color":"rgba(255,255,255,0)"},
            {"offset":0.1322,"color":"rgba(255,255,255,0)"},{"offset":0.1355,"color":"#222"},{"offset":0.1423,"color":"#222"},{"offset":0.1456,"color":"rgba(255,255,255,0)"},
            {"offset":0.1877,"color":"rgba(255,255,255,0)"},{"offset":0.191,"color":"#222"},{"offset":0.1978,"color":"#222"},{"offset":0.2011,"color":"rgba(255,255,255,0)"},
            {"offset":0.2433,"color":"rgba(255,255,255,0)"},{"offset":0.2466,"color":"#222"},{"offset":0.2534,"color":"#222"},{"offset":0.2567,"color":"rgba(255,255,255,0)"},
            {"offset":0.2989,"color":"rgba(255,255,255,0)"},{"offset":0.3022,"color":"#222"},{"offset":0.309,"color":"#222"},{"offset":0.3123,"color":"rgba(255,255,255,0)"},
            {"offset":0.3544,"color":"rgba(255,255,255,0)"},{"offset":0.3577,"color":"#222"},{"offset":0.3645,"color":"#222"},{"offset":0.3678,"color":"rgba(255,255,255,0)"},
            {"offset":0.41,"color":"rgba(255,255,255,0)"},{"offset":0.4133,"color":"#222"},{"offset":0.4201,"color":"#222"},{"offset":0.4234,"color":"rgba(255,255,255,0)"},
            {"offset":0.4655,"color":"rgba(255,255,255,0)"},{"offset":0.4688,"color":"#222"},{"offset":0.4756,"color":"#222"},{"offset":0.4789,"color":"rgba(255,255,255,0)"},
            {"offset":0.5211,"color":"rgba(255,255,255,0)"},{"offset":0.5244,"color":"#222"},{"offset":0.5312,"color":"#222"},{"offset":0.5345,"color":"rgba(255,255,255,0)"},
            {"offset":0.5766,"color":"rgba(255,255,255,0)"},{"offset":0.5799,"color":"#222"},{"offset":0.5867,"color":"#222"},{"offset":0.59,"color":"rgba(255,255,255,0)"},
            {"offset":0.6322,"color":"rgba(255,255,255,0)"},{"offset":0.6355,"color":"#222"},{"offset":0.6423,"color":"#222"},{"offset":0.6456,"color":"rgba(255,255,255,0)"},
            {"offset":0.6877,"color":"rgba(255,255,255,0)"},{"offset":0.691,"color":"#222"},{"offset":0.6978,"color":"#222"},{"offset":0.7011,"color":"rgba(255,255,255,0)"},
            {"offset":0.7433,"color":"rgba(255,255,255,0)"},{"offset":0.7466,"color":"#222"},{"offset":0.7534,"color":"#222"},{"offset":0.7567,"color":"rgba(255,255,255,0)"},
            {"offset":0.7989,"color":"rgba(255,255,255,0)"},{"offset":0.8022,"color":"#222"},{"offset":0.809,"color":"#222"},{"offset":0.8123,"color":"rgba(255,255,255,0)"},
            {"offset":0.8544,"color":"rgba(255,255,255,0)"},{"offset":0.8577,"color":"#222"},{"offset":0.8645,"color":"#222"},{"offset":0.8678,"color":"rgba(255,255,255,0)"},
            {"offset":0.91,"color":"rgba(255,255,255,0)"},{"offset":0.9133,"color":"#222"},{"offset":0.9201,"color":"#222"},{"offset":0.9234,"color":"rgba(255,255,255,0)"},
            {"offset":0.9655,"color":"rgba(255,255,255,0)"},{"offset":0.9688,"color":"#222"},{"offset":0.9756,"color":"#222"},{"offset":0.9789,"color":"rgba(255,255,255,0)"}
          ]}},
        "encoding": {"x2": {"field": "R2"}, "y2": {"field": "v2"}}
      },
      {
        "data": {"name": "rdf"},
        "mark": {"type": "line", "interpolate": "monotone", "color": "#111", "strokeWidth": 1.3},
        "encoding": {"detail": {"field": "s", "type": "nominal"}}
      },
      {
        "data": {"name": "arrows"},
        "mark": {"type": "rule", "color": "#111", "strokeWidth": 2},
        "encoding": {"x2": {"field": "R2"}, "y2": {"field": "v2"}}
      },
      {
        "data": {"name": "arrows"},
        "transform": [{"calculate": "atan2((datum.R2 - datum.R) * 63.17, (datum.v2 - datum.v) * 218.5) * 180 / PI", "as": "ang"}],
        "mark": {"type": "point", "shape": "M0,0L0.6,2L-0.6,2Z", "filled": true, "color": "#111", "opacity": 1, "size": 121},
        "encoding": {
          "x": {"field": "R2", "type": "quantitative"},
          "y": {"field": "v2", "type": "quantitative"},
          "angle": {"field": "ang", "type": "quantitative", "scale": null}
        }
      },
      {
        "data": {"values": [{"R": 3.467, "v": 1.898, "t": "Filter n°1"}, {"R": 4.174, "v": 1.474, "t": "Filter n°2"}, {"R": 3.451, "v": 0.897, "t": "Filter n°1"}, {"R": 4.168, "v": 0.42, "t": "Filter n°2"}]},
        "mark": {"type": "text", "align": "left", "baseline": "middle", "fontSize": 18, "font": "Liberation Sans", "color": "#111"},
        "encoding": {"text": {"field": "t"}}
      },
      {
        "data": {"values": [{"R": 5.678, "v": 1.676, "t": "A"}, {"R": 5.641, "v": 0.781, "t": "B"}]},
        "mark": {"type": "text", "align": "center", "baseline": "middle", "fontSize": 18, "font": "Liberation Sans", "color": "#111"},
        "encoding": {"text": {"field": "t"}}
      }
    ]
  },
  {
    "width": 376,
    "height": 437,
    "encoding": {
      "x": {"field": "k", "type": "quantitative", "scale": {"domain": [3, 14], "nice": false, "zero": false},
        "axis": {"title": "K(Å⁻¹)", "format": "~g", "values": [3,3.5,4,4.5,5,5.5,6,6.5,7,7.5,8,8.5,9,9.5,10,10.5,11,11.5,12,12.5,13,13.5,14],
          "labelExpr": "datum.value % 2 == 0 ? datum.label : ''", "labelFlush": false, "labelOverlap": false, "tickSize": -5, "labelPadding": 20, "titlePadding": 10,
          "grid": true, "gridOpacity": {"condition": {"test": "datum.value % 2 == 0 && datum.value > 3 && datum.value < 14", "value": 1}, "value": 0}}},
      "y": {"field": "val", "type": "quantitative", "scale": {"domain": [0, 100], "nice": false, "zero": false},
        "axis": {"title": null, "values": [20, 40, 60, 80], "grid": true, "ticks": false,
          "labelExpr": "(datum.value == 80 || datum.value == 40) ? 'K³χ(k)/5' : 'K³χ(k)'",
          "labelAngle": -90, "labelAlign": "center", "labelBaseline": "bottom", "labelFont": "Liberation Sans", "labelFontSize": 17, "labelPadding": 15, "labelOverlap": false, "labelFlush": false, "labelBound": false}}
    },
    "layer": [
      {
        "data": {"name": "exafs"},
        "transform": [{"fold": ["C", "E"], "as": ["s", "val"]}],
        "mark": {"type": "line", "interpolate": "monotone", "color": "#111", "strokeWidth": 2},
        "encoding": {"detail": {"field": "s", "type": "nominal"}}
      },
      {
        "data": {"name": "exafs"},
        "transform": [{"fold": ["D"], "as": ["s", "val"]}],
        "mark": {"type": "line", "interpolate": "monotone", "color": "#111", "strokeWidth": 2.6}
      },
      {
        "data": {"name": "exafs"},
        "transform": [{"fold": ["F"], "as": ["s", "val"]}],
        "mark": {"type": "line", "interpolate": "monotone", "color": "#111", "strokeWidth": 1.2}
      },
      {
        "data": {"name": "exafs"},
        "transform": [{"fold": ["C", "D", "E", "Fc"], "as": ["s", "val"]}],
        "mark": {"type": "point", "shape": "circle", "filled": false, "color": "#222", "opacity": 1, "strokeWidth": 0.9, "size": 40},
        "encoding": {"detail": {"field": "s", "type": "nominal"}}
      },
      {
        "data": {"values": [{"k": 4.82, "val": 61.05}]},
        "mark": {"type": "point", "shape": "circle", "filled": false, "color": "#555", "opacity": 1, "strokeWidth": 0.8, "size": 5400}
      },
      {
        "data": {"values": [{"k": 4.95, "val": 47.5, "k2": 4.95, "val2": 53.5}]},
        "mark": {"type": "rule", "color": "#111", "strokeWidth": 2.5},
        "encoding": {"x2": {"field": "k2"}, "y2": {"field": "val2"}}
      },
      {
        "data": {"values": [{"k": 4.95, "val": 55.0}]},
        "mark": {"type": "point", "shape": "M0,0L0.6,2L-0.6,2Z", "filled": true, "color": "#111", "opacity": 1, "size": 121}
      },
      {
        "data": {"values": [{"k": 12.92, "val": 96.7, "t": "C"}, {"k": 12.97, "val": 70.4, "t": "D"}, {"k": 12.92, "val": 44.6, "t": "E"}, {"k": 12.92, "val": 30.7, "t": "F"}]},
        "mark": {"type": "text", "align": "center", "baseline": "middle", "fontSize": 18, "font": "Liberation Sans", "color": "#111"},
        "encoding": {"text": {"field": "t"}}
      },
      {
        "data": {"values": [{"k": 4.53, "k2": 8.19, "val": 100.9, "val2": 88.7}, {"k": 8.35, "k2": 12.04, "val": 9.38, "val2": 2.29}]},
        "mark": {"type": "rect", "fill": "white", "stroke": "#222", "strokeWidth": 1},
        "encoding": {"x2": {"field": "k2"}, "y2": {"field": "val2"}}
      },
      {
        "data": {"values": [{"k": 5.02, "k2": 5.55, "val": 98.4, "val2": 98.4}, {"k": 8.58, "k2": 9.36, "val": 6.86, "val2": 6.86}]},
        "mark": {"type": "rule", "color": "#555", "strokeWidth": 1},
        "encoding": {"x2": {"field": "k2"}, "y2": {"field": "val2"}}
      },
      {
        "data": {"values": [{"k": 5.02, "k2": 5.55, "val": 91.4, "val2": 91.4}]},
        "mark": {"type": "rule", "color": "#555", "strokeWidth": 1, "strokeDash": [2, 2]},
        "encoding": {"x2": {"field": "k2"}, "y2": {"field": "val2"}}
      },
      {
        "data": {"values": [{"k": 4.72, "val": 94.7}, {"k": 5.03, "val": 94.7}, {"k": 5.34, "val": 94.7}, {"k": 8.63, "val": 4.58}, {"k": 8.92, "val": 4.58}, {"k": 9.24, "val": 4.58}]},
        "mark": {"type": "point", "shape": "circle", "filled": false, "color": "#222", "opacity": 1, "strokeWidth": 0.9, "size": 22}
      },
      {
        "data": {"values": [{"k": 5.78, "val": 98.4, "t": "Experimental"}, {"k": 5.78, "val": 94.7, "t": "Calculated fit a"}, {"k": 5.78, "val": 91.4, "t": "Calculated fit b"}, {"k": 9.5, "val": 6.95, "t": "Experimental"}, {"k": 9.5, "val": 4.5, "t": "Calculated"}]},
        "mark": {"type": "text", "align": "left", "baseline": "middle", "fontSize": 10.5, "fontWeight": "bold", "font": "Liberation Sans", "color": "#111"},
        "encoding": {"text": {"field": "t"}}
      }
    ]
  }
]
}
